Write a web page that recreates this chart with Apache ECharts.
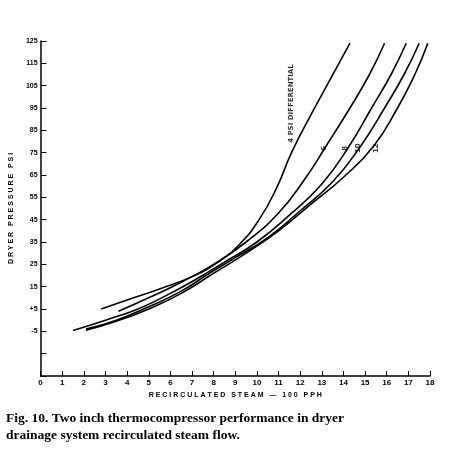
<!DOCTYPE html><html><head><meta charset="utf-8"><script src="https://cdn.jsdelivr.net/npm/echarts@6/dist/echarts.min.js"></script></head><body style="margin:0;background:#fff"><div id="c" style="width:456px;height:459px"></div><script>
var c4=[[2.8,5],[4,9],[5.5,14],[7,19.5],[8.2,26],[9.2,34],[10.1,45],[10.9,59],[11.6,75],[12.5,92],[13.4,108],[14.3,124]];
var c6=[[3.6,4],[5,10],[6.5,17],[8,25],[9.5,35],[11,48],[12.2,63],[13.2,78],[14.3,95],[15.2,110],[15.9,124]];
var c8=[[1.5,-4.6],[3,0],[4.5,5],[6,12],[7.3,19],[8.5,26],[10,35],[11.5,47],[13,61],[14.2,77],[15.3,95],[16.2,110],[16.9,124]];
var c10=[[2.1,-4],[3.5,0],[5,6],[6.5,13],[7.8,21],[9,28],[10.5,37],[12,49],[13.5,62],[14.8,78],[15.9,95],[16.8,110],[17.5,124]];
var c12=[[2.1,-4.5],[3.5,-0.5],[5,5],[6.5,12],[8,21],[9.5,30],[11,40],[12.5,52],[14,64],[15.4,78],[16.5,95],[17.3,110],[17.9,124]];
var labels=[{t:'4 PSI DIFFERENTIAL',x:11.6,y:97},{t:'6',x:13.1,y:77},{t:'8',x:14.1,y:77},{t:'10',x:14.7,y:77},{t:'12',x:15.5,y:77}];
var ch=echarts.init(document.getElementById('c'));
function s(d){return {type:'line',data:d,smooth:true,symbol:'none',lineStyle:{color:'#000',width:1.6},z:2};}
var lab={type:'scatter',data:labels.map(function(l){return {value:[l.x,l.y],name:l.t};}),symbolSize:0,
 label:{show:true,formatter:'{b}',rotate:90,color:'#000',fontSize:7,fontWeight:'bold',fontFamily:'DejaVu Sans',position:'inside'}};
ch.setOption({animation:false,
 grid:{left:33,right:26,top:41,bottom:83},
 xAxis:{type:'value',min:0,max:18,interval:1,axisLine:{onZero:false,lineStyle:{color:'#000',width:1.5}},axisTick:{inside:true,length:5,lineStyle:{color:'#000'}},splitLine:{show:false},
  axisLabel:{color:'#000',fontSize:8,fontWeight:'bold',margin:3},
  name:'R E C I R C U L A T E D   S T E A M   —   1 0 0   P P H',nameLocation:'middle',nameGap:14,nameTextStyle:{fontSize:7,fontWeight:'bold',color:'#000'}},
 yAxis:{type:'value',min:-25,max:125,interval:10,axisLine:{show:true,onZero:false,lineStyle:{color:'#000',width:1.5}},axisTick:{inside:true,length:6,lineStyle:{color:'#000'}},splitLine:{show:false},
  axisLabel:{color:'#000',fontSize:7,fontWeight:'bold',margin:3,formatter:function(v){if(v<-5)return '';if(v==5)return '+5';return v;}},
  name:'D R Y E R   P R E S S U R E   P S I',nameLocation:'middle',nameGap:20,nameTextStyle:{fontSize:7,fontWeight:'bold',color:'#000'}},
 series:[s(c4),s(c6),s(c8),s(c10),s(c12),lab],
 graphic:[{type:'text',left:6,top:410,style:{text:'Fig. 10. Two inch thermocompressor performance in dryer\ndrainage system recirculated steam flow.',font:'bold 13.5px "Liberation Serif"',fill:'#000',lineHeight:17}}]
});
</script></body></html>
